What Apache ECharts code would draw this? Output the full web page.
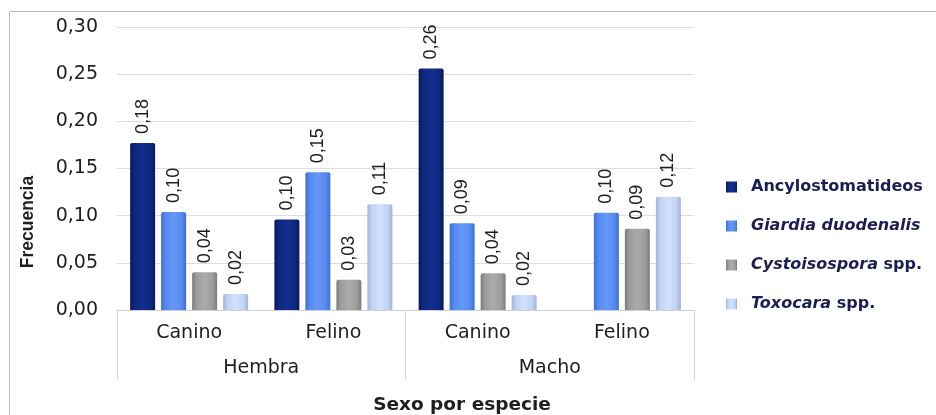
<!DOCTYPE html>
<html>
<head>
<meta charset="utf-8">
<script src="https://cdn.jsdelivr.net/npm/echarts@6/dist/echarts.min.js"></script>
<style>
  html, body { margin: 0; padding: 0; background: #ffffff; }
  #chart { width: 936px; height: 415px; }
</style>
</head>
<body>
<div id="chart"></div>
<script>
// Species (inner level) and sex (outer level) of the category axis
const especies = ['Canino', 'Felino', 'Canino', 'Felino'];
const sexos = ['Hembra', 'Macho'];

// Parasite frequencies per sex/species group
const ancylostomatideos = [0.177, 0.096, 0.256, null];
const giardia = [0.104, 0.146, 0.092, 0.103];
const cystoisospora = [0.040, 0.032, 0.039, 0.086];
const toxocara = [0.017, 0.112, 0.016, 0.120];

const seriesNames = ['Ancylostomatideos', 'Giardia duodenalis', 'Cystoisospora spp.', 'Toxocara spp.'];

// Y axis ticks
const yMin = 0, yMax = 0.30, yStep = 0.05;

const chart = echarts.init(document.getElementById('chart'), null, { renderer: 'canvas' });

function barFill(edge, mid, light) {
  return new echarts.graphic.LinearGradient(0, 0, 1, 0, [
    { offset: 0, color: edge },
    { offset: 0.18, color: mid },
    { offset: 0.5, color: light },
    { offset: 0.82, color: mid },
    { offset: 1, color: edge }
  ]);
}

const palette = [
  barFill('#081a58', '#0e2780', '#132f8e'),
  barFill('#3f6fd2', '#558af0', '#6598f7'),
  barFill('#7c7c7c', '#9c9c9c', '#ababab'),
  barFill('#a2b3dc', '#c2d3f5', '#d2e0fb')
];

const fmt = v => v.toFixed(2).replace('.', ',');

function makeSeries(name, data, idx) {
  return {
    name: name,
    type: 'bar',
    data: data,
    barWidth: 25,
    barGap: '24%',
    itemStyle: { color: palette[idx], borderRadius: [2, 2, 0, 0] },
    label: {
      show: true,
      position: 'top',
      rotate: 90,
      align: 'left',
      verticalAlign: 'middle',
      distance: 9,
      fontFamily: 'Liberation Sans',
      fontSize: 18,
      color: '#1e1e1e',
      formatter: p => fmt(p.value)
    }
  };
}

const legendText = {
  'Ancylostomatideos': '{b|Ancylostomatideos}',
  'Giardia duodenalis': '{i|Giardia duodenalis}',
  'Cystoisospora spp.': '{i|Cystoisospora}{b| spp.}',
  'Toxocara spp.': '{i|Toxocara}{b| spp.}'
};

const option = {
  animation: false,
  backgroundColor: '#ffffff',
  grid: { left: 117, right: 242, top: 27, bottom: 105, containLabel: false },
  legend: {
    orient: 'vertical',
    left: 726,
    top: 177,
    padding: 0,
    icon: 'rect',
    itemWidth: 11,
    itemHeight: 11,
    itemGap: 19,
    selectedMode: false,
    data: seriesNames,
    formatter: n => legendText[n],
    textStyle: {
      lineHeight: 20,
      padding: [0, 0, 0, 9],
      rich: {
        b: { fontFamily: 'DejaVu Sans', fontWeight: 'bold', fontSize: 16, color: '#1b1d55', lineHeight: 20 },
        i: { fontFamily: 'DejaVu Sans', fontWeight: 'bold', fontStyle: 'italic', fontSize: 16, color: '#1b1d55', lineHeight: 20 }
      }
    }
  },
  xAxis: [
    {
      type: 'category',
      data: especies,
      position: 'bottom',
      axisLine: { show: true, lineStyle: { color: '#cfcfcf', width: 1 } },
      axisTick: { show: false },
      axisLabel: { margin: 14, fontFamily: 'DejaVu Sans', fontSize: 19, color: '#1e1e1e' },
      splitLine: { show: false }
    },
    {
      type: 'category',
      data: sexos,
      position: 'bottom',
      axisLine: { show: false },
      axisTick: { show: true, length: 70, lineStyle: { color: '#d6d6d6', width: 1 } },
      axisLabel: { margin: 49, fontFamily: 'DejaVu Sans', fontSize: 19, color: '#1e1e1e' },
      splitLine: { show: false }
    }
  ],
  yAxis: {
    type: 'value',
    min: yMin,
    max: yMax,
    interval: yStep,
    axisLine: { show: false },
    axisTick: { show: false },
    axisLabel: {
      margin: 19,
      fontFamily: 'DejaVu Sans',
      fontSize: 19,
      color: '#1e1e1e',
      formatter: v => fmt(v)
    },
    splitLine: { lineStyle: { color: '#dedede', width: 1 } }
  },
  series: [
    makeSeries(seriesNames[0], ancylostomatideos, 0),
    makeSeries(seriesNames[1], giardia, 1),
    makeSeries(seriesNames[2], cystoisospora, 2),
    makeSeries(seriesNames[3], toxocara, 3)
  ],
  graphic: [
    {
      type: 'rect',
      z: -10,
      silent: true,
      shape: { x: 9.5, y: 11.5, width: 940, height: 420 },
      style: { fill: 'none', stroke: '#bdbdbd', lineWidth: 1 }
    },
    {
      type: 'text',
      x: 28,
      y: 222,
      rotation: Math.PI / 2,
      silent: true,
      style: {
        text: 'Frecuencia',
        font: 'bold 17.5px "Liberation Sans"',
        fill: '#1e1e1e',
        align: 'center',
        verticalAlign: 'middle',
        textAlign: 'center',
        textVerticalAlign: 'middle'
      }
    },
    {
      type: 'text',
      x: 462,
      y: 405,
      silent: true,
      style: {
        text: 'Sexo por especie',
        font: 'bold 18.5px "DejaVu Sans"',
        fill: '#1e1e1e',
        align: 'center',
        verticalAlign: 'middle',
        textAlign: 'center',
        textVerticalAlign: 'middle'
      }
    }
  ]
};

chart.setOption(option);
</script>
</body>
</html>
